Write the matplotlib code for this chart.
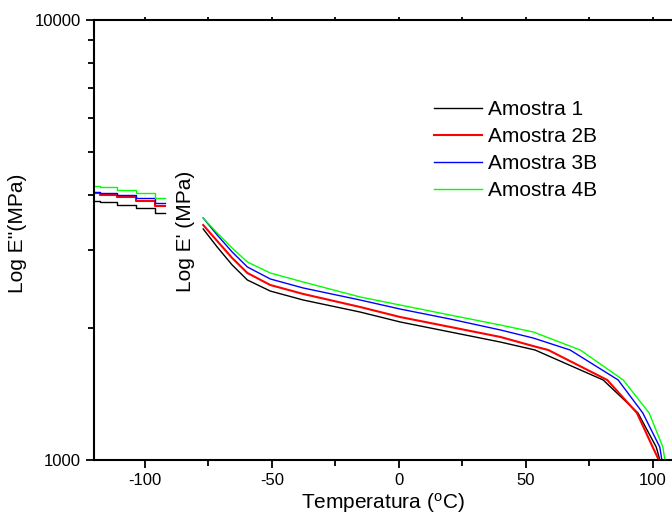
import matplotlib
matplotlib.use("Agg")
import matplotlib.pyplot as plt
from matplotlib.ticker import LogLocator, NullFormatter, MultipleLocator

plt.rcParams['font.family'] = ['Liberation Sans', 'DejaVu Sans']
plt.rcParams['axes.unicode_minus'] = False

# E'' segment (low temperature)
t_loss = [-120, -115, -107, -100, -92]
loss_1 = [3878, 3851, 3800, 3734, 3636]
loss_2b = [4037, 4002, 3954, 3886, 3780]
loss_3b = [4072, 4051, 4002, 3933, 3832]
loss_4b = [4202, 4167, 4109, 4037, 3933]

# E' segment
t_1 = [-77, -71.5, -65.6, -59.6, -50.6, -37.6, -15.2, 0.6, 20.3, 40, 53.7, 80.5, 94.2, 101.4, 102.8]
e_1 = [3350, 3049, 2775, 2565, 2421, 2310, 2169, 2059, 1954, 1854, 1778, 1520, 1279, 1070, 1000]
t_2b = [-77, -71.5, -65.6, -59.6, -50.6, -37.6, -15.2, 0.6, 20.3, 40, 53, 58.9, 82.1, 93.8, 100, 102.4]
e_2b = [3420, 3146, 2878, 2661, 2499, 2384, 2227, 2113, 2006, 1904, 1815, 1778, 1520, 1279, 1070, 1000]
t_3b = [-77, -71.5, -65.6, -59.6, -50.6, -37.6, -15.2, 0.6, 20.3, 40, 53, 67.5, 86.4, 96.1, 102.8, 103.6]
e_3b = [3548, 3247, 2970, 2746, 2579, 2460, 2310, 2203, 2091, 1975, 1893, 1778, 1520, 1279, 1070, 1000]
t_4b = [-77, -71.5, -65.6, -59.6, -50.6, -37.6, -15.2, 0.6, 20.3, 40, 53, 71.5, 88.4, 98.6, 104.0, 104.8]
e_4b = [3548, 3281, 3033, 2818, 2661, 2538, 2347, 2250, 2135, 2027, 1954, 1778, 1520, 1279, 1070, 1000]

labels = ['Amostra 1', 'Amostra 2B', 'Amostra 3B', 'Amostra 4B']
colors = ['#000000', '#ff0000', '#0000ff', '#00ff00']
widths = [1.0, 1.5, 1.0, 1.0]

fig = plt.figure(figsize=(6.72, 5.15), dpi=100)
ax = fig.add_axes([94 / 672, 1 - 460 / 515, 1 - 94 / 672, 440 / 515])

loss = [loss_1, loss_2b, loss_3b, loss_4b]
ts = [t_1, t_2b, t_3b, t_4b]
es = [e_1, e_2b, e_3b, e_4b]
for i in range(4):
    ax.plot(t_loss, loss[i], color=colors[i], lw=widths[i], drawstyle='steps-mid')
    ax.plot(ts[i], es[i], color=colors[i], lw=widths[i], label=labels[i])

ax.set_yscale('log')
ax.set_xlim(-120, 107.6)
ax.set_ylim(1000, 10000)
ax.set_yticks([1000, 10000], labels=['1000', '10000'])
ax.yaxis.set_minor_locator(LogLocator(base=10, subs=range(2, 10)))
ax.yaxis.set_minor_formatter(NullFormatter())
ax.set_xticks([-100, -50, 0, 50, 100])
ax.xaxis.set_minor_locator(MultipleLocator(25))

ax.spines['right'].set_visible(False)
for s in ['left', 'bottom', 'top']:
    ax.spines[s].set_linewidth(1.5)

ax.tick_params(axis='both', which='major', direction='out', length=6, width=1.3, labelsize=12)
ax.tick_params(axis='both', which='minor', direction='out', length=4, width=1.3)

# small ticks along the top spine
sec = ax.secondary_xaxis('top')
sec.set_xticks([-100, -50, 0, 50, 100])
sec.xaxis.set_minor_locator(MultipleLocator(25))
sec.tick_params(axis='x', which='both', direction='out', length=2.5, width=1.3, labeltop=False)
sec.spines['top'].set_visible(False)

ax.set_xlabel('Temperatura ($\\mathregular{^o}$C)', fontsize=15, labelpad=2)
ax.set_ylabel("Log E''(MPa)", fontsize=15)
ax.yaxis.set_label_coords(-0.116, 0.516)

ax.text(-84, 3300, "Log E' (MPa)", rotation=90, fontsize=15, ha='center', va='center')

ax.legend(loc='upper left', bbox_to_anchor=(0.5735, 0.837), frameon=False, fontsize=15,
          handlelength=2.3, handletextpad=0.3, labelspacing=0.38, borderaxespad=0)

fig.savefig('out.png', dpi=100)
